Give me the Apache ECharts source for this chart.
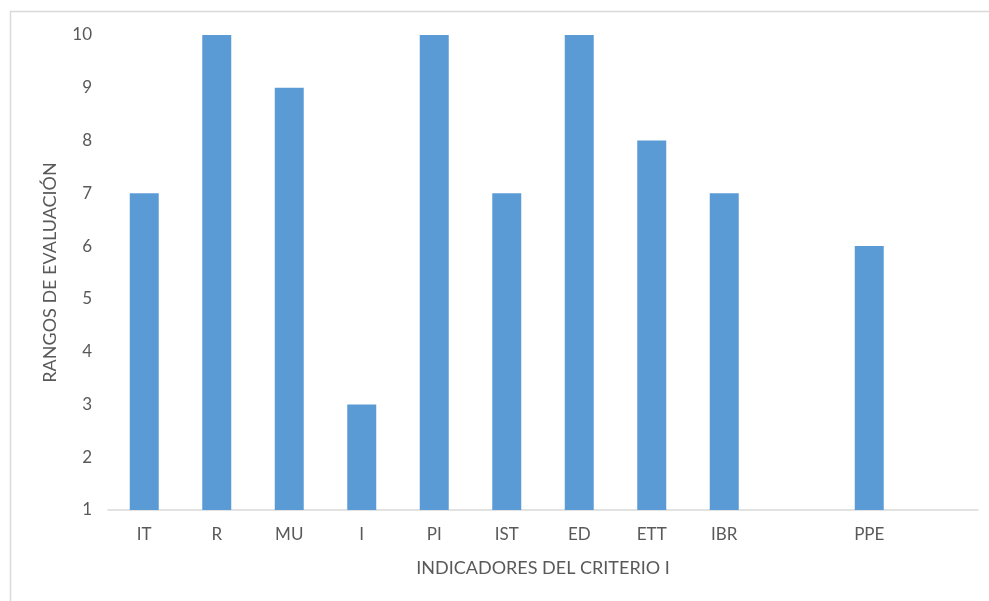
<!DOCTYPE html>
<html><head><meta charset="utf-8">
<script src="https://cdn.jsdelivr.net/npm/echarts@6/dist/echarts.min.js"></script>
<style>html,body{margin:0;padding:0;background:#fff}#c{width:989px;height:601px}</style>
</head><body><div id="c"></div>
<script>
const categories = ['IT','R','MU','I','PI','IST','ED','ETT','IBR','','PPE',''];
const values = [7,10,9,3,10,7,10,8,7,null,6,null];
const yTicks = [1,2,3,4,5,6,7,8,9,10];
const xTitle = 'INDICADORES DEL CRITERIO I';
const yTitle = 'RANGOS DE EVALUACIÓN';

const font = 'Lato, "Open Sans", sans-serif';
const chart = echarts.init(document.getElementById('c'), null, {renderer:'canvas'});
chart.setOption({
  animation:false,
  backgroundColor:'#fff',
  graphic:[{type:'rect',shape:{x:10.5,y:11.5,width:1000,height:700},style:{fill:'none',stroke:'#d9d9d9',lineWidth:1.5}}],
  grid:{left:108,right:11,top:35,bottom:91},
  xAxis:{type:'category',data:categories,
    axisLine:{lineStyle:{color:'#d9d9d9',width:1.5}},axisTick:{show:false},
    axisLabel:{color:'#595959',fontFamily:font,fontSize:17,margin:16},
    name:xTitle,nameLocation:'middle',nameGap:49,
    nameTextStyle:{color:'#595959',fontFamily:font,fontSize:18}},
  yAxis:{type:'value',min:yTicks[0],max:yTicks[yTicks.length-1],interval:1,
    axisLine:{show:false},axisTick:{show:false},splitLine:{show:false},
    axisLabel:{color:'#595959',fontFamily:font,fontSize:17,margin:16},
    name:yTitle,nameLocation:'middle',nameGap:49,nameRotate:90,
    nameTextStyle:{color:'#595959',fontFamily:font,fontSize:18}},
  series:[{type:'bar',data:values,barWidth:'40%',itemStyle:{color:'#5B9BD5'}}]
});
</script></body></html>
